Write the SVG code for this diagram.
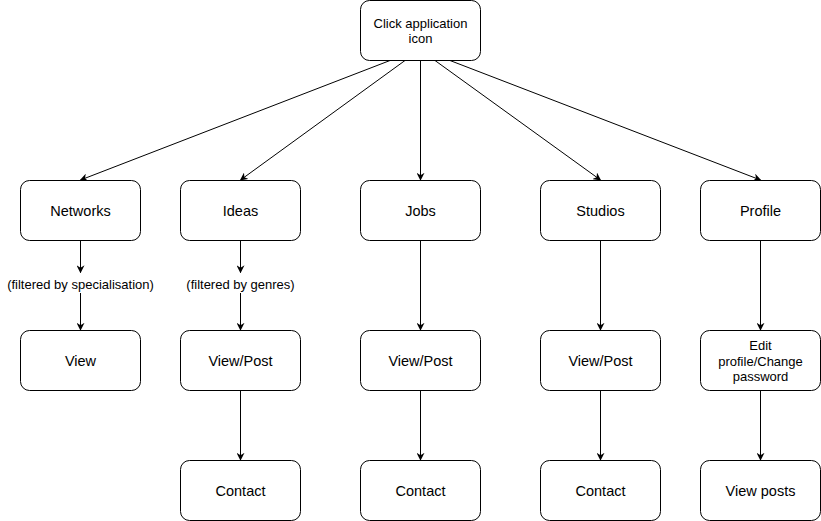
<svg xmlns="http://www.w3.org/2000/svg" width="821" height="521" viewBox="0 0 821 521">
<style>
.n rect{fill:#fff;stroke:#000;stroke-width:1}
text{font-family:"Liberation Sans",Arial,sans-serif;font-size:14.5px;fill:#000;text-anchor:middle}
.s{font-size:13px}
.e{stroke:#000;stroke-width:1;fill:none;marker-end:url(#a)}
</style>
<defs>
<marker id="a" viewBox="0 0 10 10" refX="9" refY="5" markerWidth="8" markerHeight="8" markerUnits="userSpaceOnUse" orient="auto">
<path d="M0,0 L10,5 L0,10 L3,5 Z" fill="#000"/>
</marker>
</defs>
<rect width="821" height="521" fill="#fff"/>
<g id="edges">
<line class="e" x1="390" y1="60.5" x2="80.5" y2="180"/>
<line class="e" x1="405" y1="60.5" x2="240.5" y2="180"/>
<line class="e" x1="420.5" y1="60.5" x2="420.5" y2="180"/>
<line class="e" x1="435" y1="60.5" x2="600.5" y2="180"/>
<line class="e" x1="450" y1="60.5" x2="760.5" y2="180"/>
<line class="e" x1="80.5" y1="240.5" x2="80.5" y2="272.5"/>
<line class="e" x1="80.5" y1="293" x2="80.5" y2="330"/>
<line class="e" x1="240.5" y1="240.5" x2="240.5" y2="272.5"/>
<line class="e" x1="240.5" y1="293" x2="240.5" y2="330"/>
<line class="e" x1="420.5" y1="240.5" x2="420.5" y2="330"/>
<line class="e" x1="600.5" y1="240.5" x2="600.5" y2="330"/>
<line class="e" x1="760.5" y1="240.5" x2="760.5" y2="330"/>
<line class="e" x1="240.5" y1="390.5" x2="240.5" y2="460"/>
<line class="e" x1="420.5" y1="390.5" x2="420.5" y2="460"/>
<line class="e" x1="600.5" y1="390.5" x2="600.5" y2="460"/>
<line class="e" x1="760.5" y1="390.5" x2="760.5" y2="460"/>
</g>
<g id="label1"><text class="s" x="80.5" y="288.5">(filtered by specialisation)</text></g>
<g id="label2"><text class="s" x="240.5" y="288.5">(filtered by genres)</text></g>
<g id="top" class="n"><rect x="360.5" y="0.5" width="120" height="60" rx="9"/><text class="s" x="420.5" y="28">Click application</text><text class="s" x="420.5" y="42.5">icon</text></g>
<g id="networks" class="n"><rect x="20.5" y="180.5" width="120" height="60" rx="9"/><text x="80.5" y="216">Networks</text></g>
<g id="ideas" class="n"><rect x="180.5" y="180.5" width="120" height="60" rx="9"/><text x="240.5" y="216">Ideas</text></g>
<g id="jobs" class="n"><rect x="360.5" y="180.5" width="120" height="60" rx="9"/><text x="420.5" y="216">Jobs</text></g>
<g id="studios" class="n"><rect x="540.5" y="180.5" width="120" height="60" rx="9"/><text x="600.5" y="216">Studios</text></g>
<g id="profile" class="n"><rect x="700.5" y="180.5" width="120" height="60" rx="9"/><text x="760.5" y="216">Profile</text></g>
<g id="view" class="n"><rect x="20.5" y="330.5" width="120" height="60" rx="9"/><text x="80.5" y="366">View</text></g>
<g id="ideasview" class="n"><rect x="180.5" y="330.5" width="120" height="60" rx="9"/><text x="240.5" y="366">View/Post</text></g>
<g id="jobsview" class="n"><rect x="360.5" y="330.5" width="120" height="60" rx="9"/><text x="420.5" y="366">View/Post</text></g>
<g id="studiosview" class="n"><rect x="540.5" y="330.5" width="120" height="60" rx="9"/><text x="600.5" y="366">View/Post</text></g>
<g id="edit" class="n"><rect x="700.5" y="330.5" width="120" height="60" rx="9"/><text class="s" x="760.5" y="350">Edit</text><text class="s" x="760.5" y="365.5">profile/Change</text><text class="s" x="760.5" y="381">password</text></g>
<g id="ideascontact" class="n"><rect x="180.5" y="460.5" width="120" height="60" rx="9"/><text x="240.5" y="496">Contact</text></g>
<g id="jobscontact" class="n"><rect x="360.5" y="460.5" width="120" height="60" rx="9"/><text x="420.5" y="496">Contact</text></g>
<g id="studioscontact" class="n"><rect x="540.5" y="460.5" width="120" height="60" rx="9"/><text x="600.5" y="496">Contact</text></g>
<g id="viewposts" class="n"><rect x="700.5" y="460.5" width="120" height="60" rx="9"/><text x="760.5" y="496">View posts</text></g>
</svg>
